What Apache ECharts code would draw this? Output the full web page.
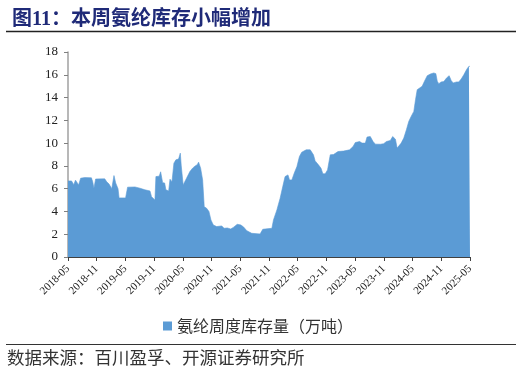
<!DOCTYPE html>
<html>
<head>
<meta charset="utf-8">
<script src="https://cdn.jsdelivr.net/npm/echarts@6/dist/echarts.min.js"></script>
<style>html,body{margin:0;padding:0;background:#fff;}#c{width:522px;height:374px;}</style>
</head>
<body>
<div id="c"></div>
<script>
const titleText = '图11：本周氨纶库存小幅增加';
const sourceText = '数据来源：百川盈孚、开源证券研究所';
const seriesName = '氨纶周度库存量（万吨）';

const dates = [
'2018-05-01','2018-05-24','2018-06-07','2018-06-18','2018-06-29','2018-07-08','2018-07-21','2018-08-16','2018-09-28','2018-10-06',
'2018-10-14','2018-10-25','2018-12-22','2019-01-04','2019-01-19','2019-01-27','2019-02-05','2019-02-18','2019-02-28','2019-03-15',
'2019-03-22','2019-05-02','2019-05-15','2019-07-01','2019-08-02','2019-09-03','2019-10-05','2019-10-15','2019-11-06','2019-11-12',
'2019-12-03','2019-12-12','2019-12-25','2020-01-07','2020-01-15','2020-02-02','2020-02-10','2020-02-22','2020-03-05','2020-03-18',
'2020-04-04','2020-04-15','2020-04-21','2020-05-03','2020-05-14','2020-05-25','2020-06-15','2020-06-26','2020-07-02','2020-07-19',
'2020-08-01','2020-08-10','2020-08-23','2020-09-05','2020-09-15','2020-09-30','2020-10-15','2020-10-28','2020-11-12','2020-12-03',
'2021-01-05','2021-01-20','2021-02-09','2021-03-01','2021-03-18','2021-04-12','2021-05-04','2021-05-21','2021-06-12','2021-07-13',
'2021-09-05','2021-09-22','2021-10-07','2021-11-19','2021-11-29','2021-12-21','2022-01-11','2022-01-28','2022-02-11','2022-02-28',
'2022-03-10','2022-03-25','2022-04-09','2022-04-26','2022-05-12','2022-05-27','2022-06-24','2022-07-20','2022-07-31','2022-08-10',
'2022-08-21','2022-09-11','2022-09-27','2022-10-09','2022-10-24','2022-11-08','2022-11-25','2022-12-16','2023-01-14','2023-02-17',
'2023-03-27','2023-04-18','2023-05-02','2023-05-30','2023-06-14','2023-07-05','2023-07-16','2023-08-06','2023-08-24','2023-09-08',
'2023-10-10','2023-10-31','2023-11-17','2023-12-12','2023-12-27','2024-01-14','2024-01-25','2024-02-04','2024-02-19','2024-03-06',
'2024-03-23','2024-04-07','2024-04-22','2024-05-09','2024-05-20','2024-05-31','2024-06-10','2024-07-01','2024-07-16','2024-08-03',
'2024-08-24','2024-09-14','2024-09-27','2024-10-06','2024-10-16','2024-10-31','2024-11-17','2024-12-04','2024-12-21','2025-01-03',
'2025-01-16','2025-02-06','2025-02-19','2025-03-06','2025-03-23','2025-04-09','2025-04-24','2025-05-01'
];
const values = [
6.68,6.68,6.35,6.75,6.75,6.33,6.92,6.97,6.95,6.60,
6.04,6.85,6.86,6.60,6.40,6.50,6.00,7.15,6.50,6.00,
5.19,5.19,6.13,6.15,6.04,5.90,5.80,5.30,5.00,7.06,
7.10,7.48,6.53,6.50,5.90,5.80,6.83,6.60,8.24,8.53,
8.60,9.12,8.00,6.33,6.50,6.92,7.50,7.40,7.80,8.00,
8.10,8.33,7.80,6.77,4.42,4.28,4.00,3.25,2.81,2.67,
2.73,2.52,2.55,2.46,2.60,2.87,2.82,2.65,2.31,2.08,
2.02,2.43,2.46,2.52,3.25,4.13,5.16,6.18,7.06,7.21,
6.77,6.77,7.36,7.94,8.82,9.20,9.41,9.41,9.35,8.97,
8.44,8.09,7.80,7.30,7.30,7.65,8.97,9.00,9.26,9.30,
9.41,9.70,10.05,10.14,10.00,10.00,10.53,10.58,10.14,9.91,
9.90,9.95,10.14,10.23,10.58,10.35,9.56,9.47,10.00,10.44,
11.17,11.90,12.34,12.78,13.81,14.69,14.84,14.99,15.43,15.92,
16.07,16.16,16.10,15.43,15.22,15.37,15.40,15.72,15.92,15.50,
15.28,15.37,15.37,15.63,16.00,16.45,16.74,16.74
];
const yTicks = [0,2,4,6,8,10,12,14,16,18];

function monthOffset(s){
  const p = s.split('-').map(Number);
  const dim = new Date(p[0], p[1], 0).getDate();
  return (p[0]-2018)*12 + (p[1]-5) + (p[2]-1)/dim;
}
function monthLabel(v){
  const t = 2018*12 + 4 + Math.round(v);
  const y = Math.floor(t/12), m = t%12 + 1;
  return y + '-' + (m<10?'0':'') + m;
}

const chart = echarts.init(document.getElementById('c'), null, {renderer:'canvas'});
chart.setOption({
  animation:false,
  backgroundColor:'#fff',
  grid:{left:68, right:52, top:52, bottom:117, containLabel:false},
  title:{
    text:titleText, left:7, top:5,
    textStyle:{fontFamily:'Liberation Serif, "Noto Sans CJK SC"', fontWeight:'bold', fontSize:20, color:'#1f2a78'}
  },
  legend:{
    data:[seriesName], left:158, top:313, icon:'rect', itemWidth:9, itemHeight:9, itemGap:7,
    textStyle:{fontFamily:'"Noto Sans CJK SC"', fontSize:16, color:'#333'}
  },
  xAxis:{
    type:'value', min:0, max:84, interval:6,
    axisLine:{show:true, lineStyle:{color:'#404040', width:1}},
    axisTick:{show:true, length:4, lineStyle:{color:'#404040'}},
    splitLine:{show:false},
    axisLabel:{
      rotate:45, margin:10, formatter:monthLabel, hideOverlap:false, showMinLabel:true, showMaxLabel:true,
      fontFamily:'Liberation Serif', fontSize:11, color:'#222'
    }
  },
  yAxis:{
    type:'value', min:yTicks[0], max:yTicks[yTicks.length-1], interval:2,
    axisLine:{show:true, lineStyle:{color:'#a0a0a0', width:1.5}},
    axisTick:{show:true, length:4, lineStyle:{color:'#808080'}},
    splitLine:{show:false},
    axisLabel:{margin:10, fontFamily:'Liberation Serif', fontSize:13, color:'#222'}
  },
  series:[{
    name:seriesName, type:'line', showSymbol:false, smooth:false,
    data:dates.map((d,i)=>[monthOffset(d), values[i]]),
    lineStyle:{color:'#5b9bd5', width:0.6},
    itemStyle:{color:'#5b9bd5'},
    areaStyle:{color:'#5b9bd5', opacity:1}
  }],
  graphic:[
    {type:'line', shape:{x1:6, y1:31.5, x2:516, y2:31.5}, style:{stroke:'#222', lineWidth:1.5}},
    {type:'line', shape:{x1:6, y1:344.5, x2:516, y2:344.5}, style:{stroke:'#333', lineWidth:1}},
    {type:'text', left:7, top:349, style:{text:sourceText, fontFamily:'"Noto Sans CJK SC"', fontSize:17.5, fill:'#333'}}
  ]
});
</script>
</body>
</html>
